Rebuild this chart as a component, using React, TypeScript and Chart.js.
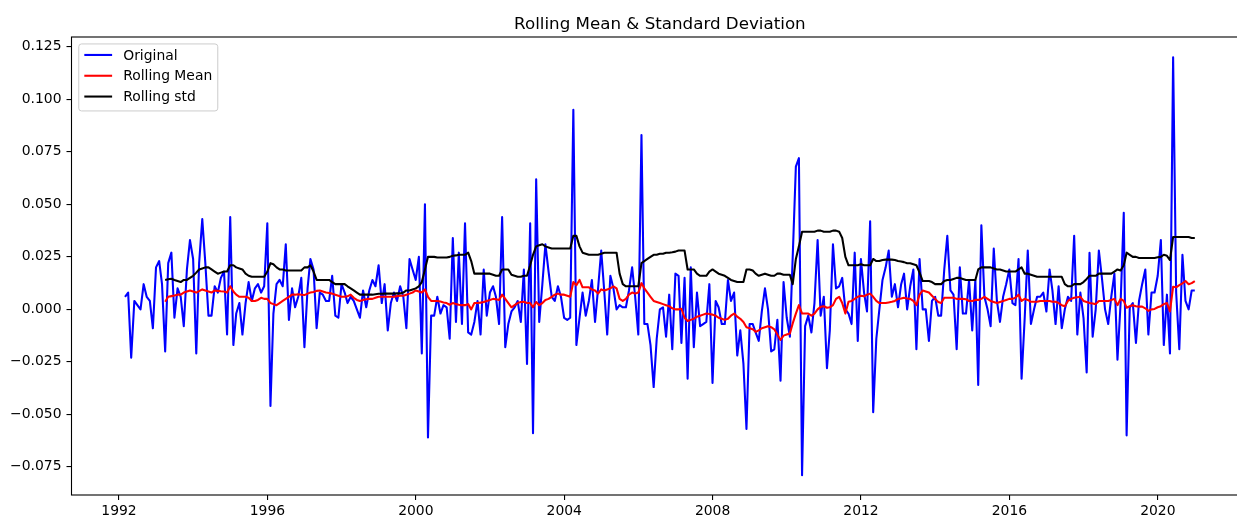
import { useEffect, useRef } from "react";
import { Chart, registerables } from "chart.js";

Chart.register(...registerables);

const TITLE = "Rolling Mean & Standard Deviation";
const SERIES_LABELS = ["Original", "Rolling Mean", "Rolling std"];
const SERIES_COLORS = ["#0000ff", "#ff0000", "#000000"];

// Monthly (month-end) observations, first one is Feb 1992
const START_YEAR = 1992;
const START_MONTH = 2;
// the rolling statistics begin at this month index
const ROLLING_START = 13;

const original = [
  0.006, 0.008, -0.023, 0.004, 0.002, 0.000, 0.012, 0.006, 0.004, -0.009,
  0.020, 0.023, 0.012, -0.020, 0.022, 0.027, -0.004, 0.010, 0.006, -0.008,
  0.019, 0.033, 0.024, -0.021, 0.022, 0.043, 0.022, -0.003, -0.003, 0.011,
  0.008, 0.015, 0.018, -0.012, 0.044, -0.017, -0.002, 0.003, -0.012, 0.003,
  0.013, 0.004, 0.010, 0.012, 0.008, 0.011, 0.041, -0.046, -0.002, 0.012,
  0.014, 0.011, 0.031, -0.005, 0.010, 0.001, 0.006, 0.015, -0.018, 0.010,
  0.024, 0.019, -0.009, 0.008, 0.007, 0.004, 0.004, 0.016, -0.003, -0.004,
  0.012, 0.008, 0.003, 0.006, 0.004, 0.000, -0.004, 0.009, 0.001, 0.009,
  0.014, 0.011, 0.021, 0.003, 0.012, -0.010, 0.003, 0.008, 0.004, 0.011,
  0.006, -0.009, 0.024, 0.019, 0.014, 0.025, -0.021, 0.050, -0.061, -0.003,
  -0.003, 0.006, -0.002, 0.002, 0.001, -0.014, 0.034, -0.006, 0.027, -0.007,
  0.041, -0.011, -0.012, -0.006, 0.004, -0.012, 0.019, -0.003, 0.008, 0.011,
  0.006, -0.007, 0.044, -0.018, -0.007, -0.001, 0.001, 0.004, -0.006, 0.019,
  -0.026, 0.041, -0.059, 0.062, -0.006, 0.012, 0.031, 0.018, 0.006, 0.004,
  0.011, 0.006, -0.004, -0.005, -0.004, 0.095, -0.017, -0.004, 0.008, -0.003,
  0.004, 0.014, -0.006, 0.010, 0.028, 0.008, -0.012, 0.016, 0.010, 0.000,
  0.002, 0.001, 0.001, 0.009, 0.020, 0.006, -0.012, 0.083, -0.007, -0.007,
  -0.017, -0.037, -0.014, 0.000, 0.001, -0.013, 0.007, -0.019, 0.017, 0.016,
  -0.016, 0.015, -0.033, 0.020, -0.018, 0.008, -0.008, -0.007, -0.006, 0.012,
  -0.035, 0.004, 0.001, -0.007, -0.007, 0.014, 0.004, 0.008, -0.022, -0.010,
  -0.026, -0.057, -0.007, -0.007, -0.011, -0.015, -0.001, 0.010, 0.000, -0.020,
  -0.019, -0.005, -0.034, 0.013, -0.004, -0.013, 0.025, 0.068, 0.072, -0.079,
  -0.008, -0.003, -0.011, 0.003, 0.033, -0.003, 0.006, -0.028, -0.010, 0.031,
  0.010, 0.011, 0.015, 0.000, -0.002, -0.007, 0.027, -0.015, 0.024, 0.008,
  -0.001, 0.042, -0.049, -0.014, 0.000, 0.014, 0.020, 0.028, 0.006, 0.012,
  0.001, 0.012, 0.017, 0.000, 0.011, 0.019, -0.019, 0.024, 0.000, 0.000,
  -0.015, 0.004, 0.006, -0.003, -0.003, 0.019, 0.035, 0.009, 0.007, -0.019,
  0.020, -0.002, -0.002, 0.014, -0.010, 0.014, -0.036, 0.040, 0.006, 0.000,
  -0.008, 0.029, 0.004, -0.006, 0.006, 0.012, 0.019, 0.003, 0.002, 0.024,
  -0.033, -0.004, 0.028, -0.007, 0.000, 0.006, 0.006, 0.008, -0.001, 0.019,
  0.009, -0.007, 0.011, -0.009, 0.000, 0.006, 0.004, 0.035, -0.012, 0.008,
  -0.004, -0.030, 0.027, -0.013, 0.000, 0.028, 0.015, 0.000, -0.007, 0.006,
  0.017, -0.024, 0.003, 0.046, -0.060, 0.001, 0.003, -0.016, 0.004, 0.012,
  0.019, -0.012, 0.008, 0.008, 0.016, 0.033, -0.017, 0.007, -0.021, 0.120,
  0.008, -0.019, 0.026, 0.004, 0.000, 0.009, 0.009,
];

const rollingMean = [
  0.0036, 0.006, 0.0063, 0.0066, 0.007, 0.007, 0.008, 0.0085, 0.009, 0.0085,
  0.008, 0.0087, 0.0095, 0.009, 0.0085, 0.008, 0.009, 0.0088, 0.0086, 0.0085,
  0.008, 0.011, 0.0085, 0.007, 0.006, 0.006, 0.006, 0.0055, 0.004, 0.004,
  0.0045, 0.0055, 0.005, 0.005, 0.003, 0.0025, 0.002, 0.003, 0.004, 0.005,
  0.006, 0.007, 0.007, 0.0072, 0.007, 0.0068, 0.0075, 0.008, 0.0083, 0.0088,
  0.009, 0.0085, 0.008, 0.0078, 0.0075, 0.007, 0.0065, 0.006, 0.006, 0.0062,
  0.007, 0.0055, 0.0045, 0.004, 0.0045, 0.0048, 0.005, 0.005, 0.0055, 0.006,
  0.006, 0.006, 0.006, 0.006, 0.006, 0.0063, 0.0065, 0.0065, 0.007, 0.0075,
  0.008, 0.009, 0.0085, 0.008, 0.0095, 0.006, 0.004, 0.004, 0.004, 0.0037,
  0.0033, 0.003, 0.0022, 0.003, 0.0025, 0.0022, 0.002, 0.002, 0.0025, 0.0,
  0.003, 0.003, 0.0032, 0.0035, 0.004, 0.0045, 0.005, 0.0048, 0.0045, 0.007,
  0.005, 0.003, 0.001, 0.002, 0.003, 0.0035, 0.0036, 0.003, 0.003, 0.001,
  0.0035, 0.002, 0.003, 0.0045, 0.005, 0.006, 0.007, 0.0075, 0.007, 0.007,
  0.0065, 0.006, 0.013, 0.0115, 0.014, 0.0105, 0.0105, 0.0105, 0.0095, 0.009,
  0.0075, 0.0095, 0.009, 0.0095, 0.010, 0.011, 0.010, 0.005, 0.004, 0.005,
  0.007, 0.008, 0.0075, 0.008, 0.0125, 0.010, 0.008, 0.006, 0.004, 0.0035,
  0.003, 0.0025, 0.002, 0.0015, 0.0005, 0.0, 0.0, 0.0003, -0.004, -0.0055,
  -0.005, -0.0045, -0.0035, -0.003, -0.0025, -0.002, -0.0022, -0.0025, -0.003, -0.004,
  -0.0045, -0.005, -0.0045, -0.003, -0.002, -0.0035, -0.0045, -0.006, -0.0085, -0.009,
  -0.0095, -0.0107, -0.010, -0.009, -0.0085, -0.008, -0.0085, -0.0095, -0.012, -0.0146,
  -0.0125, -0.012, -0.0115, -0.0067, -0.002, 0.002, -0.002, -0.002, -0.002, -0.003,
  -0.002, 0.0, 0.0012, 0.0015, 0.0008, 0.001, 0.002, 0.005, 0.006, 0.003,
  -0.002, 0.0036, 0.004, 0.005, 0.006, 0.0065, 0.0062, 0.007, 0.0075, 0.006,
  0.004, 0.003, 0.003, 0.003, 0.0033, 0.0036, 0.004, 0.005, 0.0052, 0.0055,
  0.0052, 0.005, 0.004, 0.002, 0.007, 0.009, 0.0085, 0.008, 0.0065, 0.005,
  0.0035, 0.003, 0.0055, 0.0055, 0.0055, 0.0055, 0.005, 0.005, 0.005, 0.0048,
  0.004, 0.004, 0.0045, 0.0045, 0.005, 0.006, 0.005, 0.004, 0.0035, 0.003,
  0.0035, 0.004, 0.0045, 0.005, 0.005, 0.0055, 0.007, 0.004, 0.005, 0.0045,
  0.0036, 0.0036, 0.0036, 0.004, 0.004, 0.004, 0.004, 0.0036, 0.0036, 0.003,
  0.002, 0.0015, 0.004, 0.005, 0.0055, 0.0058, 0.006, 0.004, 0.0035, 0.003,
  0.0028, 0.0025, 0.004, 0.004, 0.004, 0.004, 0.0045, 0.005, 0.002, 0.005,
  0.004, 0.0008, 0.0015, 0.002, 0.0015, 0.0013, 0.0013, 0.0005, -0.0007, 0.0,
  0.0002, 0.001, 0.0015, 0.0025, 0.003, -0.001, 0.0108, 0.0105, 0.0115, 0.0124,
  0.0135, 0.012, 0.0125, 0.0135,
];

const rollingStd = [
  0.014, 0.0143, 0.0146, 0.014, 0.0135, 0.013, 0.014, 0.014, 0.015, 0.016,
  0.0175, 0.019, 0.0195, 0.020, 0.020, 0.019, 0.018, 0.017, 0.0175, 0.018,
  0.018, 0.021, 0.021, 0.020, 0.0195, 0.019, 0.017, 0.016, 0.0155, 0.0155,
  0.0155, 0.0155, 0.0155, 0.018, 0.022, 0.0215, 0.020, 0.019, 0.019, 0.0185,
  0.0185, 0.0185, 0.0185, 0.0185, 0.0185, 0.020, 0.020, 0.021, 0.018, 0.014,
  0.014, 0.014, 0.014, 0.014, 0.013, 0.012, 0.012, 0.012, 0.012, 0.011,
  0.010, 0.009, 0.008, 0.007, 0.007, 0.007, 0.007, 0.007, 0.0072, 0.0074,
  0.0074, 0.0075, 0.0075, 0.0075, 0.0075, 0.0076, 0.0076, 0.008, 0.009, 0.009,
  0.0095, 0.010, 0.011, 0.013, 0.019, 0.025, 0.025, 0.025, 0.0247, 0.0247,
  0.0247, 0.0247, 0.025, 0.0255, 0.0257, 0.026, 0.026, 0.026, 0.027, 0.023,
  0.017, 0.017, 0.017, 0.017, 0.017, 0.017, 0.0165, 0.016, 0.016, 0.019,
  0.019, 0.019, 0.0165, 0.016, 0.0155, 0.0155, 0.016, 0.016, 0.021, 0.026,
  0.030, 0.0305, 0.031, 0.030, 0.0295, 0.029, 0.029, 0.029, 0.029, 0.029,
  0.029, 0.029, 0.035, 0.035, 0.030, 0.027, 0.0265, 0.026, 0.026, 0.026,
  0.026, 0.0265, 0.027, 0.027, 0.027, 0.027, 0.027, 0.017, 0.012, 0.011,
  0.011, 0.011, 0.011, 0.011, 0.022, 0.023, 0.024, 0.025, 0.026, 0.026,
  0.0265, 0.0265, 0.027, 0.027, 0.0272, 0.0275, 0.028, 0.028, 0.028, 0.019,
  0.019, 0.019, 0.017, 0.016, 0.016, 0.016, 0.018, 0.019, 0.018, 0.017,
  0.0165, 0.016, 0.015, 0.014, 0.0135, 0.013, 0.013, 0.013, 0.019, 0.019,
  0.0185, 0.017, 0.016, 0.0165, 0.017, 0.0165, 0.016, 0.016, 0.017, 0.017,
  0.0165, 0.0165, 0.0165, 0.012, 0.024, 0.030, 0.037, 0.037, 0.037, 0.037,
  0.037, 0.0375, 0.0375, 0.037, 0.037, 0.037, 0.0375, 0.0375, 0.037, 0.034,
  0.025, 0.021, 0.021, 0.021, 0.021, 0.0215, 0.021, 0.021, 0.021, 0.024,
  0.023, 0.023, 0.0235, 0.0237, 0.0237, 0.0237, 0.0235, 0.023, 0.0228, 0.0225,
  0.022, 0.022, 0.0215, 0.021, 0.0175, 0.0135, 0.0135, 0.0135, 0.013, 0.012,
  0.012, 0.012, 0.0135, 0.014, 0.014, 0.0145, 0.015, 0.015, 0.0145, 0.014,
  0.014, 0.014, 0.014, 0.019, 0.020, 0.020, 0.020, 0.020, 0.0195, 0.019,
  0.019, 0.0185, 0.018, 0.018, 0.018, 0.018, 0.019, 0.020, 0.017, 0.017,
  0.0165, 0.016, 0.0155, 0.0155, 0.0155, 0.0155, 0.0155, 0.0155, 0.0155, 0.0155,
  0.0155, 0.012, 0.011, 0.011, 0.012, 0.012, 0.012, 0.013, 0.0145, 0.016,
  0.016, 0.016, 0.017, 0.017, 0.017, 0.017, 0.017, 0.018, 0.019, 0.0185,
  0.021, 0.027, 0.026, 0.025, 0.025, 0.0245, 0.0245, 0.0245, 0.0245, 0.0245,
  0.0245, 0.0248, 0.025, 0.026, 0.0255, 0.0235, 0.0345, 0.0345, 0.0345, 0.0345,
  0.0345, 0.0345, 0.034, 0.034,
];

const xTickYears = [1992, 1996, 2000, 2004, 2008, 2012, 2016, 2020];
const yTickValues = [-0.075, -0.05, -0.025, 0, 0.025, 0.05, 0.075, 0.1, 0.125];

// axis limits (matplotlib auto limits with 5% margins)
const X_MIN = 1990.719;
const X_MAX = 2022.439;
const Y_MIN = -0.0884;
const Y_MAX = 0.1297;

const FONT = '"DejaVu Sans", "Liberation Sans", sans-serif';

// month-end date of the n-th observation, as a fractional year
function monthEndYear(n: number): number {
  const k = START_MONTH - 1 + n;
  const y = START_YEAR + Math.floor(k / 12);
  const m = k % 12;
  const t = Date.UTC(y, m + 1, 0);
  const y0 = Date.UTC(y, 0, 1);
  const y1 = Date.UTC(y + 1, 0, 1);
  return y + (t - y0) / (y1 - y0);
}

const decorPlugin = {
  id: "mplDecor",
  afterDatasetsDraw(chart: any) {
    const { ctx, chartArea } = chart;
    const { left, top, right, bottom } = chartArea;
    ctx.save();
    // spines
    ctx.strokeStyle = "#000";
    ctx.lineWidth = 1.1;
    ctx.strokeRect(left, top, right - left, bottom - top);

    // title
    ctx.fillStyle = "#000";
    ctx.font = `16.7px ${FONT}`;
    ctx.textAlign = "center";
    ctx.textBaseline = "alphabetic";
    ctx.fillText(TITLE, (left + right) / 2, top - 8.3);

    // legend
    const fs = 13.9;
    ctx.font = `${fs}px ${FONT}`;
    const labels = chart.data.datasets.map((d: any) => d.label);
    const colors = chart.data.datasets.map((d: any) => d.borderColor);
    const textW = Math.max(...labels.map((l: string) => ctx.measureText(l).width));
    const bx = left + 0.5 * fs + 0.3;
    const by = top + 0.5 * fs;
    const pad = 0.4 * fs;
    const handleLen = 2.0 * fs;
    const handlePad = 0.8 * fs;
    const rowH = 20.8;
    const bw = pad + handleLen + handlePad + textW + pad;
    const bh = 67;
    const r = 0.2 * fs;
    ctx.beginPath();
    ctx.moveTo(bx + r, by);
    ctx.lineTo(bx + bw - r, by);
    ctx.quadraticCurveTo(bx + bw, by, bx + bw, by + r);
    ctx.lineTo(bx + bw, by + bh - r);
    ctx.quadraticCurveTo(bx + bw, by + bh, bx + bw - r, by + bh);
    ctx.lineTo(bx + r, by + bh);
    ctx.quadraticCurveTo(bx, by + bh, bx, by + bh - r);
    ctx.lineTo(bx, by + r);
    ctx.quadraticCurveTo(bx, by, bx + r, by);
    ctx.closePath();
    ctx.fillStyle = "rgba(255,255,255,0.8)";
    ctx.fill();
    ctx.strokeStyle = "#cccccc";
    ctx.lineWidth = 1;
    ctx.stroke();

    labels.forEach((label: string, i: number) => {
      const cy = by + 11 + i * rowH;
      ctx.strokeStyle = colors[i];
      ctx.lineWidth = 2.08;
      ctx.beginPath();
      ctx.moveTo(bx + pad, cy);
      ctx.lineTo(bx + pad + handleLen, cy);
      ctx.stroke();
      ctx.fillStyle = "#000";
      ctx.textAlign = "left";
      ctx.textBaseline = "middle";
      ctx.fillText(label, bx + pad + handleLen + handlePad, cy + 1);
    });
    ctx.restore();
  },
};

export default function App() {
  const canvasRef = useRef<HTMLCanvasElement | null>(null);

  useEffect(() => {
    const canvas = canvasRef.current;
    if (!canvas) return;

    const dates = original.map((_, i) => monthEndYear(i));
    const origPts = original.map((v, i) => ({ x: dates[i], y: v }));
    const meanPts = rollingMean.map((v, i) => ({ x: dates[i + ROLLING_START], y: v }));
    const stdPts = rollingStd.map((v, i) => ({ x: dates[i + ROLLING_START], y: v }));

    const lineCommon = {
      borderWidth: 2.08,
      pointRadius: 0,
      pointHoverRadius: 0,
      tension: 0,
      fill: false,
      borderJoinStyle: "round" as const,
      borderCapStyle: "butt" as const,
    };

    const tickFont = { family: FONT, size: 13.9 };

    const chart = new Chart(canvas, {
      type: "line",
      data: {
        datasets: [
          { ...lineCommon, label: SERIES_LABELS[0], data: origPts, borderColor: SERIES_COLORS[0], order: 3 },
          { ...lineCommon, label: SERIES_LABELS[1], data: meanPts, borderColor: SERIES_COLORS[1], order: 2 },
          { ...lineCommon, label: SERIES_LABELS[2], data: stdPts, borderColor: SERIES_COLORS[2], order: 1 },
        ],
      },
      options: {
        animation: false,
        responsive: false,
        devicePixelRatio: 1,
        parsing: false,
        normalized: true,
        events: [],
        layout: { padding: { left: 0, top: 37, right: 11.7, bottom: 0 } },
        plugins: {
          legend: { display: false },
          title: { display: false },
          tooltip: { enabled: false },
        },
        scales: {
          x: {
            type: "linear",
            min: X_MIN,
            max: X_MAX,
            afterBuildTicks: (scale: any) => {
              scale.ticks = xTickYears.map((v) => ({ value: v }));
            },
            afterFit: (scale: any) => {
              scale.height = 23;
            },
            ticks: {
              autoSkip: false,
              maxRotation: 0,
              minRotation: 0,
              padding: 3,
              color: "#000",
              font: tickFont,
              callback: (v: any) => String(v),
            },
            grid: {
              display: true,
              drawOnChartArea: false,
              drawTicks: true,
              tickLength: 5,
              color: "#000",
              lineWidth: 1.1,
            },
            border: { display: false },
          },
          y: {
            type: "linear",
            min: Y_MIN,
            max: Y_MAX,
            afterBuildTicks: (scale: any) => {
              scale.ticks = yTickValues.map((v) => ({ value: v }));
            },
            afterFit: (scale: any) => {
              scale.width = 71.5;
            },
            ticks: {
              autoSkip: false,
              padding: 5,
              color: "#000",
              font: tickFont,
              callback: (v: any) => {
                const n = Number(v);
                const s = Math.abs(n).toFixed(3);
                return n < -1e-9 ? "\u2212" + s : s;
              },
            },
            grid: {
              display: true,
              drawOnChartArea: false,
              drawTicks: true,
              tickLength: 5,
              color: "#000",
              lineWidth: 1.1,
            },
            border: { display: false },
          },
        },
      },
      plugins: [decorPlugin],
    });

    return () => {
      chart.destroy();
    };
  }, []);

  return (
    <div
      style={{
        position: "fixed",
        left: 0,
        top: 0,
        width: 1237,
        height: 518,
        overflow: "hidden",
        background: "#fff",
      }}
    >
      <canvas
        ref={canvasRef}
        width={1260}
        height={518}
        style={{ display: "block", width: 1260, height: 518 }}
      />
    </div>
  );
}
